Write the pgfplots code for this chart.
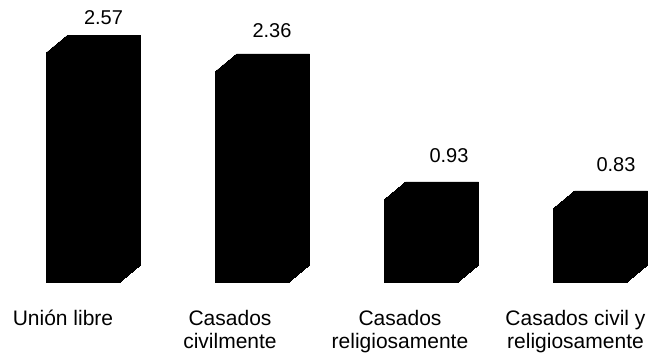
\documentclass[border=0pt]{standalone}
\usepackage{fontspec}
\setmainfont{Liberation Sans}
\usepackage{pgfplots}
\usepackage{pgfplotstable}
\pgfplotsset{compat=1.18}
\pgfplotstableread{
x v lx ly
0 2.57 21 27.5
1 2.36 20.5 33
2 0.93 28.5 36
3 0.83 26.5 36.5
}\data
\begin{document}
\begin{tikzpicture}
\begin{axis}[
 scale only axis, width=650bp, height=282.5bp,
 xmin=-0.48817, xmax=3.35799, ymin=0, ymax=3.1564,
 axis line style={draw=none}, major tick length=0pt,
 ytick=\empty,
 xtick={-0.1154,0.8728,1.8787,2.9172},
 xticklabels={Unión libre, Casados\\civilmente, Casados\\religiosamente, Casados civil y\\religiosamente},
 xticklabel style={align=center, anchor=north, inner sep=0pt, yshift=-27.7bp, font=\fontsize{21bp}{22.5bp}\selectfont},
 ybar, bar width=73bp,
 clip=false,
]
\pgfplotsinvokeforeach{0,...,21}{
 \addplot[fill=black, draw=black, line width=0.4bp, bar shift={#1*1.0238bp}, yshift={#1*0.8333bp}] table[x=x,y=v]{\data};
}
\addplot[draw=none, fill=none, bar shift=0pt,
 nodes near coords={\pgfmathprintnumber[fixed,precision=2,fixed zerofill,assume math mode=true]{\pgfplotspointmeta}},
 visualization depends on={\thisrow{lx}\as\lx},
 visualization depends on={\thisrow{ly}\as\ly},
 every node near coord/.append style={anchor=south, inner sep=0pt, xshift=\lx bp, yshift=\ly bp, font=\fontsize{20bp}{22bp}\selectfont, text=black}
] table[x=x,y=v]{\data};
\path (rel axis cs:0,-0.26726) rectangle (rel axis cs:1,1);
\end{axis}
\end{tikzpicture}
\end{document}
